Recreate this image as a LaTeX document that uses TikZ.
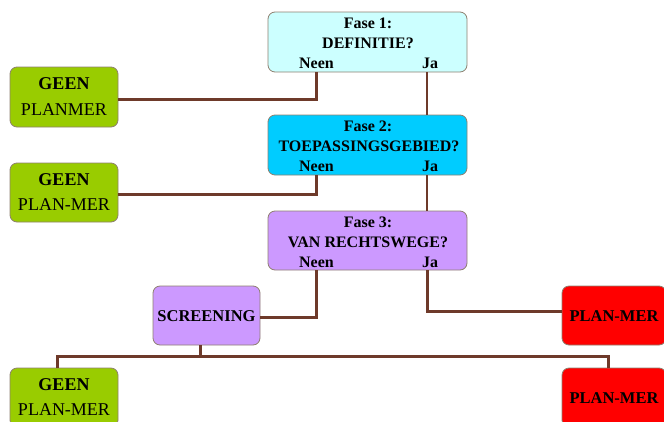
\documentclass[tikz,border=0pt]{standalone}
\usepackage{fontspec}
\setmainfont{Liberation Serif}
\begin{document}
\begin{tikzpicture}[x=1pt,y=-1pt,
  box/.style={draw=gray!75!brown, line width=0.8pt, rounded corners=7pt, inner sep=0pt},
  lbl/.style={font=\bfseries\fontsize{16}{20}\selectfont, inner sep=0pt, anchor=base},
  big/.style={inner sep=0pt, anchor=base, font=\fontsize{18}{22}\selectfont},
  con/.style={draw=linkc, line width=3pt},
  conthin/.style={draw=linkc, line width=2pt}]
\definecolor{linkc}{HTML}{6E3A2A}
\definecolor{fcyanl}{HTML}{CCFFFF}
\definecolor{fcyan}{HTML}{00CCFF}
\definecolor{flav}{HTML}{CC99FF}
\definecolor{fgreen}{HTML}{99CC00}
\definecolor{fred}{HTML}{FF0000}
\useasboundingbox (0,0) rectangle (664,421);
\begin{scope}
\clip (0,0) rectangle (664,421);
% boxes
\node[box, fill=fcyanl, minimum width=199pt, minimum height=60pt] (f1) at (367.5,42) {};
\node[box, fill=fcyan, minimum width=199pt, minimum height=60pt] (f2) at (367.5,145) {};
\node[box, fill=flav, minimum width=199pt, minimum height=59pt] (f3) at (367.5,240.5) {};
\node[box, fill=fgreen, minimum width=108pt, minimum height=60pt] (g1) at (64,97) {};
\node[box, fill=fgreen, minimum width=108pt, minimum height=59pt] (g2) at (64,192.5) {};
\node[box, fill=fgreen, minimum width=108pt, minimum height=59pt] (g3) at (64,397.5) {};
\node[box, fill=flav, minimum width=107pt, minimum height=59pt] (scr) at (206.5,315.5) {};
\node[box, fill=fred, minimum width=104pt, minimum height=59pt] (pm1) at (614,315.5) {};
\node[box, fill=fred, minimum width=104pt, minimum height=59pt] (pm2) at (614,397.5) {};
% texts
\node[lbl] (f1a) at (368,28) {Fase 1:};
\node[lbl] (f1b) at (368,48) {DEFINITIE?};
\node[lbl] (f1n) at (316.5,68) {Neen};
\node[lbl] (f1j) at (430,68) {Ja};
\node[lbl] (f2a) at (368,131) {Fase 2:};
\node[lbl] (f2b) at (369,151) {TOEPASSINGSGEBIED?};
\node[lbl] (f2n) at (316.5,171) {Neen};
\node[lbl] (f2j) at (430,171) {Ja};
\node[lbl] (f3a) at (368,227) {Fase 3:};
\node[lbl] (f3b) at (368,247) {VAN RECHTSWEGE?};
\node[lbl] (f3n) at (316.5,267) {Neen};
\node[lbl] (f3j) at (430,267) {Ja};
\node[big, font=\bfseries\fontsize{18}{22}\selectfont] (g1a) at (64,89.5) {GEEN};
\node[big] (g1b) at (64,115) {PLANMER};
\node[big, font=\bfseries\fontsize{18}{22}\selectfont] (g2a) at (64,185) {GEEN};
\node[big] (g2b) at (64,210.5) {PLAN-MER};
\node[big, font=\bfseries\fontsize{18}{22}\selectfont] (g3a) at (64,390) {GEEN};
\node[big] (g3b) at (64,415.5) {PLAN-MER};
\node[lbl, font=\bfseries\fontsize{16.5}{20}\selectfont] (scrt) at (206.5,321.5) {SCREENING};
\node[lbl, font=\bfseries\fontsize{16.5}{20}\selectfont] (pm1t) at (614,321.5) {PLAN-MER};
\node[lbl, font=\bfseries\fontsize{16.5}{20}\selectfont] (pm2t) at (614,403.5) {PLAN-MER};
% connectors
\coordinate (n1) at (316,99);
\coordinate (n2) at (316,194);
\coordinate (n3) at (316,317);
\coordinate (j3) at (427,311);
\coordinate (sb) at (200,356);
\draw[con] (f1.south -| n1) -- (n1) -- (n1 -| g1.east);
\draw[conthin] (f1.south -| j3) -- (f2.north -| j3);
\draw[con] (f2.south -| n2) -- (n2) -- (n2 -| g2.east);
\draw[conthin] (f2.south -| j3) -- (f3.north -| j3);
\draw[con] (f3.south -| n3) -- (n3) -- (n3 -| scr.east);
\draw[con] (f3.south -| j3) -- (j3) -- (j3 -| pm1.west);
\draw[con] (scr.south -| sb) -- (sb);
\draw[con] (g3.north -| 57,0) |- (sb) -| (pm2.north -| 608,0);
\end{scope}
\end{tikzpicture}
\end{document}
